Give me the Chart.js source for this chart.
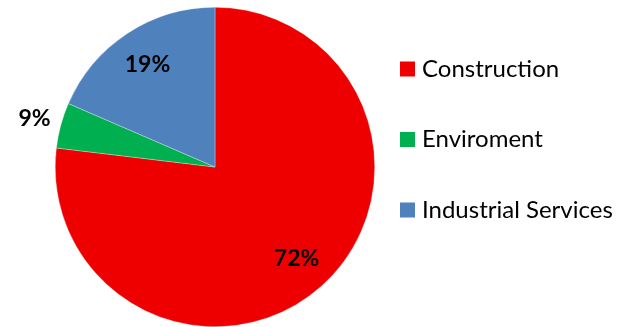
<!DOCTYPE html>
<html><head><meta charset="utf-8">
<script src="https://cdn.jsdelivr.net/npm/chart.js@4/dist/chart.umd.min.js"></script>
<style>html,body{margin:0;padding:0;background:#fff;overflow:hidden}#wrap{width:625px;height:327px;position:relative}</style>
</head><body><div id="wrap"><canvas id="c"></canvas></div>
<script>
const categories = ["Construction", "Enviroment", "Industrial Services"];
const values = [76.9, 4.6, 18.5];
const valueLabels = ["72%", "9%", "19%"];
const colors = ["#EE0000", "#00B050", "#4F81BD"];

const FONT = "Lato, 'Open Sans', sans-serif";

const labelPlugin = {
  id: 'sliceLabels',
  afterDatasetsDraw(chart) {
    const ctx = chart.ctx;
    const meta = chart.getDatasetMeta(0);
    ctx.save();
    ctx.font = "bold 23px " + FONT;
    ctx.fillStyle = "#000";
    ctx.textAlign = "center";
    ctx.textBaseline = "middle";
    meta.data.forEach((arc, i) => {
      const p = arc.getProps(['x','y','startAngle','endAngle','outerRadius'], true);
      const mid = (p.startAngle + p.endAngle) / 2;
      const frac = values[i] < 8 ? 1.17 : 0.77;
      const r = p.outerRadius * frac;
      ctx.fillText(valueLabels[i], p.x + Math.cos(mid) * r, p.y + Math.sin(mid) * r);
    });
    ctx.restore();
  }
};

const legendPlugin = {
  id: 'sideLegend',
  afterDraw(chart) {
    const ctx = chart.ctx;
    ctx.save();
    ctx.font = "24px " + FONT;
    ctx.textBaseline = "middle";
    ctx.textAlign = "left";
    categories.forEach((c, i) => {
      const y = 69 + i * 70.5;
      ctx.fillStyle = colors[i];
      ctx.fillRect(400, y - 7.5, 15, 15);
      ctx.fillStyle = "#000";
      ctx.fillText(c, 422, y);
    });
    ctx.restore();
  }
};

new Chart(document.getElementById('c'), {
  type: 'pie',
  data: {
    labels: categories,
    datasets: [{ data: values, backgroundColor: colors, borderColor: 'rgba(255,255,255,0.6)', borderWidth: 0.5 }]
  },
  options: {
    responsive: true,
    maintainAspectRatio: false,
    animation: false,
    layout: { padding: { left: 55, right: 250, top: 7, bottom: 0 } },
    plugins: { legend: { display: false }, tooltip: { enabled: false } }
  },
  plugins: [labelPlugin, legendPlugin]
});
</script></body></html>
